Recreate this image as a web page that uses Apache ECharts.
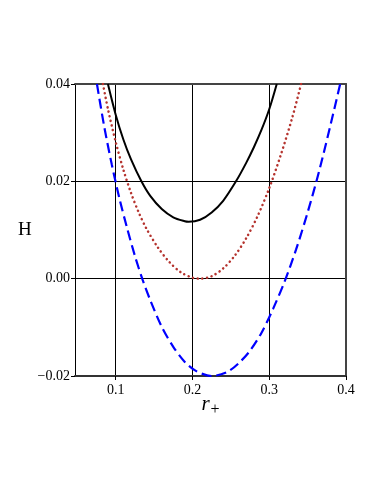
<!DOCTYPE html>
<html>
<head>
<meta charset="utf-8">
<script src="https://cdn.jsdelivr.net/npm/echarts@6/dist/echarts.min.js"></script>
<style>
  html, body { margin: 0; padding: 0; background: #fff; }
  #chart { width: 382px; height: 494px; }
</style>
</head>
<body>
<div id="chart"></div>
<script>
// values
const xTicks = [0.1, 0.2, 0.3, 0.4];

// solid black curve
const blackX = [0.0899, 0.1, 0.11, 0.12, 0.1335, 0.145, 0.16, 0.175, 0.19, 0.195, 0.21, 0.225, 0.24, 0.2567, 0.27, 0.28, 0.29, 0.30, 0.3098];
const blackY = [0.0400, 0.0337, 0.0286, 0.0245, 0.0200, 0.0170, 0.0143, 0.0126, 0.0118, 0.0117, 0.0121, 0.0136, 0.0160, 0.0200, 0.0238, 0.0270, 0.0306, 0.0348, 0.0400];

// dotted brown curve
const brownX = [0.0834, 0.09, 0.10, 0.11, 0.12, 0.13, 0.14, 0.155, 0.17, 0.185, 0.20, 0.21, 0.225, 0.24, 0.255, 0.27, 0.285, 0.30, 0.315, 0.33, 0.3415];
const brownY = [0.0400, 0.0348, 0.0281, 0.0224, 0.0176, 0.0136, 0.0103, 0.0064, 0.0034, 0.0013, 0.0002, 0.0000, 0.0005, 0.0021, 0.0047, 0.0083, 0.0129, 0.0186, 0.0254, 0.0331, 0.0400];

// dashed blue curve
const blueX = [0.0756, 0.085, 0.095, 0.105, 0.115, 0.125, 0.135, 0.145, 0.16, 0.175, 0.19, 0.205, 0.225, 0.245, 0.26, 0.275, 0.29, 0.305, 0.32, 0.335, 0.35, 0.365, 0.38, 0.3924];
const blueY = [0.0400, 0.0313, 0.0234, 0.0164, 0.0103, 0.0047, -0.0002, -0.0044, -0.0099, -0.0140, -0.0171, -0.0190, -0.0200, -0.0192, -0.0174, -0.0148, -0.0111, -0.0062, -0.0006, 0.0060, 0.0136, 0.0221, 0.0317, 0.0400];

function pairs(xs, ys) {
  return xs.map(function (x, i) { return [x, ys[i]]; });
}

const serif = 'Liberation Serif';
const chart = echarts.init(document.getElementById('chart'));

const option = {
  animation: false,
  backgroundColor: '#fff',
  grid: { left: 75, right: 36, top: 84, bottom: 118 },
  xAxis: [{
    type: 'value',
    min: 0.047,
    max: 0.4,
    name: '{i|r}{s|+}',
    nameLocation: 'middle',
    nameMoveOverlap: false,
    nameGap: 14,
    nameTextStyle: {
      rich: {
        i: { fontFamily: serif, fontStyle: 'italic', fontSize: 21, color: '#000' },
        s: { fontFamily: serif, fontSize: 16, color: '#000', padding: [12, 0, 0, 1] }
      }
    },
    axisLine: { show: true, onZero: false, lineStyle: { color: '#333', width: 2 } },
    axisTick: { show: true, customValues: xTicks, length: 4, lineStyle: { color: '#000' } },
    axisLabel: {
      customValues: xTicks,
      margin: 7,
      fontFamily: serif, fontSize: 14, color: '#000',
      formatter: function (v) { return v.toFixed(1); }
    },
    splitLine: { show: true, lineStyle: { color: '#000', width: 1 } }
  }, {
    type: 'value', position: 'top', min: 0.047, max: 0.4,
    axisLine: { show: true, onZero: false, lineStyle: { color: '#444', width: 2 } },
    axisTick: { show: false }, axisLabel: { show: false }, splitLine: { show: false }
  }],
  yAxis: [{
    type: 'value',
    min: -0.02,
    max: 0.04,
    interval: 0.02,
    name: 'H',
    nameLocation: 'middle',
    nameRotate: 0,
    nameGap: 42,
    nameTextStyle: { fontFamily: serif, fontSize: 19, color: '#000' },
    axisLine: { show: true, onZero: false, lineStyle: { color: '#000', width: 1 } },
    axisTick: { show: true, length: 4, lineStyle: { color: '#000' } },
    axisLabel: {
      margin: 5,
      fontFamily: serif, fontSize: 14, color: '#000',
      formatter: function (v) {
        return v < 0 ? '\u2212' + Math.abs(v).toFixed(2) : v.toFixed(2);
      }
    },
    splitLine: { show: true, lineStyle: { color: '#000', width: 1 } }
  }, {
    type: 'value', position: 'right', min: -0.02, max: 0.04,
    axisLine: { show: true, onZero: false, lineStyle: { color: '#444', width: 2 } },
    axisTick: { show: false }, axisLabel: { show: false }, splitLine: { show: false }
  }],
  series: [
    {
      type: 'line',
      data: pairs(blackX, blackY),
      smooth: 0.3,
      showSymbol: false,
      lineStyle: { color: '#000', width: 2 }
    },
    {
      type: 'line',
      data: pairs(brownX, brownY),
      smooth: 0.3,
      showSymbol: false,
      lineStyle: { color: '#b5332e', width: 2.5, type: [0.1, 4.6], cap: 'round' }
    },
    {
      type: 'line',
      data: pairs(blueX, blueY),
      smooth: 0.3,
      showSymbol: false,
      lineStyle: { color: '#0000ff', width: 2.2, type: [10, 5] }
    }
  ]
};

chart.setOption(option);
</script>
</body>
</html>
